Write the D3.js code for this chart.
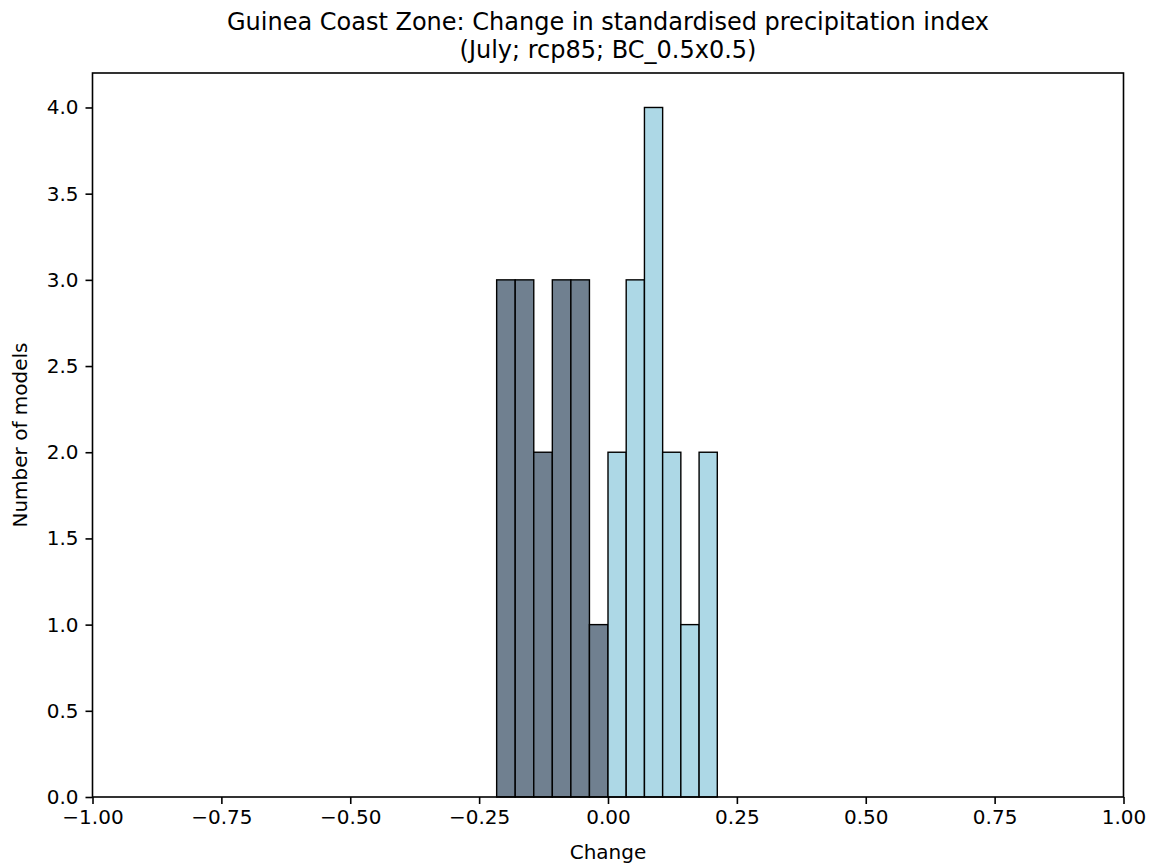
<!DOCTYPE html>
<html>
<head>
<meta charset="utf-8">
<script src="https://cdn.jsdelivr.net/npm/d3@7"></script>
<style>
  html, body { margin: 0; padding: 0; background: #fff; }
  text { font-family: "DejaVu Sans", sans-serif; fill: #000; }
</style>
</head>
<body>
<svg id="chart" width="1151" height="865"></svg>
<script>
// ---- data ----
const titleLines = ["Guinea Coast Zone: Change in standardised precipitation index", "(July; rcp85; BC_0.5x0.5)"];
const xLabel = "Change";
const yLabel = "Number of models";
const negEdges = [-0.216, -0.180, -0.144, -0.108, -0.072, -0.036, 0.0];
const negCounts = [3, 3, 2, 3, 3, 1];
const posEdges = [0.0, 0.0353, 0.0707, 0.106, 0.1413, 0.1767, 0.212];
const posCounts = [2, 3, 4, 2, 1, 2];
const xTicks = [-1.0, -0.75, -0.5, -0.25, 0.0, 0.25, 0.5, 0.75, 1.0];
const yTicks = [0.0, 0.5, 1.0, 1.5, 2.0, 2.5, 3.0, 3.5, 4.0];
const xDomain = [-1, 1];
const yDomain = [0, 4.2];

// ---- layout ----
const L = 92.5, R = 1123.5, T = 73, B = 797;
const svg = d3.select("#chart");
const x = d3.scaleLinear().domain(xDomain).range([L, R]);
const y = d3.scaleLinear().domain(yDomain).range([B, T]);

function bins(edges, counts) {
  return counts.map((c, i) => ({ x0: edges[i], x1: edges[i + 1], n: c }));
}

const series = [
  { data: bins(negEdges, negCounts), fill: "#708090" },
  { data: bins(posEdges, posCounts), fill: "#add8e6" }
];

series.forEach(s => {
  svg.append("g").selectAll("rect").data(s.data).join("rect")
    .attr("x", d => x(d.x0))
    .attr("width", d => x(d.x1) - x(d.x0))
    .attr("y", d => y(d.n))
    .attr("height", d => y(0) - y(d.n))
    .attr("fill", s.fill)
    .attr("stroke", "#000")
    .attr("stroke-width", 1.4);
});

// axes
const fmtX = v => d3.format(".2f")(v).replace("-", "\u2212");
const fmtY = v => d3.format(".1f")(v);

const xAxis = svg.append("g").attr("transform", `translate(0,${B})`)
  .call(d3.axisBottom(x).tickValues(xTicks).tickFormat(fmtX).tickSize(7).tickPadding(6).tickSizeOuter(0));
const yAxis = svg.append("g").attr("transform", `translate(${L},0)`)
  .call(d3.axisLeft(y).tickValues(yTicks).tickFormat(fmtY).tickSize(7).tickPadding(7).tickSizeOuter(0));

[xAxis, yAxis].forEach(a => {
  a.select(".domain").remove();
  a.selectAll(".tick line").attr("stroke", "#000").attr("stroke-width", 1.6);
  a.selectAll(".tick text").attr("font-family", "DejaVu Sans").attr("font-size", 20).attr("fill", "#000");
});

// frame
svg.append("rect").attr("x", L).attr("y", T).attr("width", R - L).attr("height", B - T)
  .attr("fill", "none").attr("stroke", "#000").attr("stroke-width", 1.6);

// labels
svg.append("text").attr("x", (L + R) / 2).attr("y", 859).attr("text-anchor", "middle")
  .attr("font-size", 20).text(xLabel);
svg.append("text").attr("transform", `translate(27,${(T + B) / 2}) rotate(-90)`)
  .attr("text-anchor", "middle").attr("font-size", 20).text(yLabel);

// title
titleLines.forEach((t, i) => {
  svg.append("text").attr("x", (L + R) / 2).attr("y", 30 + i * 28).attr("text-anchor", "middle")
    .attr("font-size", 24).text(t);
});
</script>
</body>
</html>
